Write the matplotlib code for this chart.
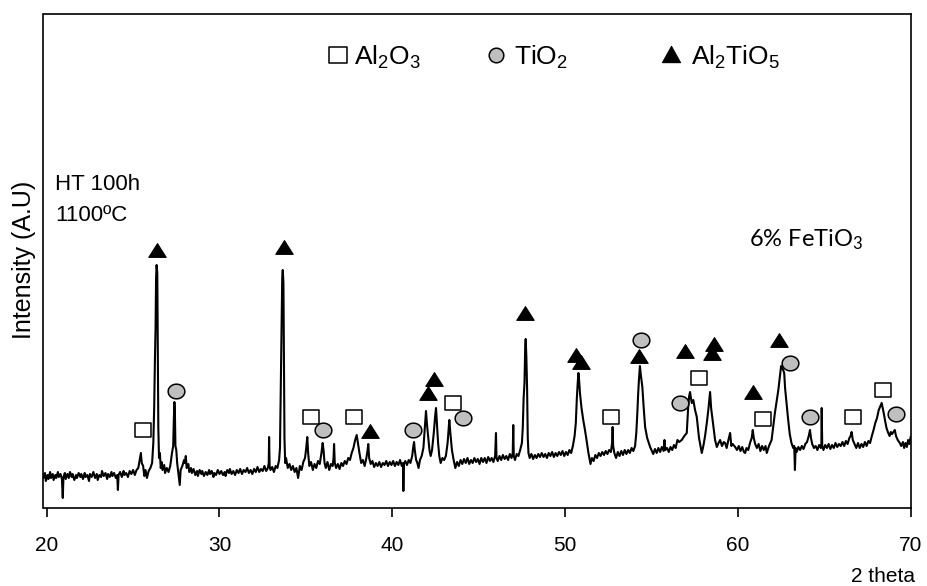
import numpy as np
import matplotlib
matplotlib.use("Agg")
import matplotlib.pyplot as plt
from matplotlib.path import Path
from matplotlib.lines import Line2D

# XRD scan: 2-theta (deg) and intensity (arbitrary units)
two_theta = [
    19.80, 19.90, 19.95, 20.05, 20.10, 20.20, 20.25, 20.35, 20.40, 20.50,
    20.55, 20.65, 20.70, 20.80, 20.88, 20.93, 20.97, 21.05, 21.10, 21.20,
    21.28, 21.35, 21.45, 21.50, 21.60, 21.70, 21.75, 21.85, 21.95, 22.00,
    22.10, 22.20, 22.25, 22.35, 22.45, 22.50, 22.60, 22.70, 22.80, 22.90,
    22.95, 23.05, 23.15, 23.20, 23.30, 23.40, 23.50, 23.55, 23.65, 23.75,
    23.80, 23.90, 24.00, 24.08, 24.12, 24.16, 24.25, 24.35, 24.45, 24.50,
    24.60, 24.70, 24.80, 24.90, 25.00, 25.10, 25.20, 25.30, 25.38, 25.45,
    25.50, 25.58, 25.65, 25.72, 25.80, 25.90, 26.00, 26.10, 26.17, 26.22,
    26.26, 26.30, 26.33, 26.36, 26.40, 26.43, 26.46, 26.50, 26.55, 26.60,
    26.65, 26.70, 26.80, 26.85, 26.95, 27.05, 27.15, 27.25, 27.32, 27.36,
    27.39, 27.42, 27.45, 27.50, 27.55, 27.62, 27.70, 27.75, 27.85, 27.95,
    28.00, 28.05, 28.10, 28.20, 28.25, 28.35, 28.40, 28.50, 28.60, 28.70,
    28.75, 28.85, 28.95, 29.00, 29.10, 29.20, 29.30, 29.40, 29.45, 29.55,
    29.65, 29.70, 29.80, 29.90, 30.00, 30.10, 30.20, 30.30, 30.35, 30.45,
    30.55, 30.60, 30.70, 30.80, 30.90, 31.00, 31.10, 31.20, 31.30, 31.40,
    31.50, 31.60, 31.70, 31.80, 31.90, 32.00, 32.10, 32.20, 32.30, 32.40,
    32.50, 32.60, 32.70, 32.80, 32.85, 32.87, 32.90, 32.95, 33.05, 33.15,
    33.25, 33.35, 33.45, 33.50, 33.54, 33.57, 33.60, 33.63, 33.66, 33.70,
    33.73, 33.76, 33.80, 33.85, 33.95, 34.05, 34.15, 34.25, 34.35, 34.45,
    34.55, 34.65, 34.75, 34.85, 34.95, 35.02, 35.08, 35.13, 35.20, 35.30,
    35.40, 35.50, 35.60, 35.70, 35.80, 35.90, 35.97, 36.02, 36.08, 36.15,
    36.25, 36.35, 36.45, 36.55, 36.60, 36.63, 36.67, 36.75, 36.85, 36.95,
    37.05, 37.15, 37.25, 37.35, 37.45, 37.55, 37.65, 37.75, 37.85, 37.94,
    38.00, 38.10, 38.20, 38.30, 38.40, 38.50, 38.57, 38.61, 38.66, 38.75,
    38.85, 38.95, 39.05, 39.15, 39.25, 39.35, 39.45, 39.55, 39.65, 39.75,
    39.85, 39.95, 40.05, 40.15, 40.25, 40.35, 40.45, 40.55, 40.62, 40.64,
    40.67, 40.75, 40.85, 40.95, 41.05, 41.15, 41.22, 41.26, 41.30, 41.38,
    41.45, 41.52, 41.60, 41.70, 41.80, 41.88, 41.95, 42.00, 42.08, 42.15,
    42.22, 42.30, 42.40, 42.48, 42.53, 42.58, 42.65, 42.72, 42.80, 42.90,
    43.00, 43.10, 43.20, 43.30, 43.36, 43.45, 43.55, 43.65, 43.75, 43.85,
    43.95, 44.05, 44.15, 44.25, 44.35, 44.45, 44.55, 44.65, 44.75, 44.85,
    44.95, 45.05, 45.15, 45.25, 45.35, 45.45, 45.55, 45.65, 45.75, 45.85,
    45.95, 46.00, 46.03, 46.10, 46.20, 46.30, 46.40, 46.50, 46.60, 46.70,
    46.80, 46.90, 46.97, 47.00, 47.03, 47.10, 47.20, 47.30, 47.40, 47.50,
    47.55, 47.60, 47.65, 47.69, 47.72, 47.76, 47.80, 47.84, 47.88, 47.95,
    48.05, 48.15, 48.25, 48.35, 48.45, 48.55, 48.65, 48.75, 48.85, 48.95,
    49.05, 49.15, 49.25, 49.35, 49.45, 49.55, 49.65, 49.75, 49.85, 49.95,
    50.05, 50.15, 50.25, 50.35, 50.45, 50.55, 50.62, 50.68, 50.73, 50.77,
    50.81, 50.86, 50.95, 51.05, 51.15, 51.24, 51.35, 51.47, 51.55, 51.65,
    51.75, 51.85, 51.95, 52.05, 52.15, 52.25, 52.35, 52.45, 52.55, 52.65,
    52.72, 52.75, 52.78, 52.85, 52.95, 53.05, 53.15, 53.25, 53.35, 53.45,
    53.55, 53.65, 53.75, 53.85, 53.95, 54.05, 54.12, 54.18, 54.23, 54.28,
    54.33, 54.37, 54.42, 54.47, 54.55, 54.63, 54.75, 54.92, 55.00, 55.10,
    55.20, 55.30, 55.40, 55.50, 55.60, 55.70, 55.75, 55.80, 55.90, 56.00,
    56.10, 56.20, 56.30, 56.40, 56.50, 56.60, 56.75, 56.90, 57.04, 57.12,
    57.18, 57.23, 57.28, 57.33, 57.42, 57.52, 57.62, 57.75, 57.91, 58.00,
    58.10, 58.20, 58.30, 58.39, 58.45, 58.52, 58.58, 58.68, 58.78, 58.88,
    58.97, 59.08, 59.18, 59.26, 59.35, 59.45, 59.55, 59.62, 59.70, 59.84,
    59.95, 60.05, 60.15, 60.25, 60.35, 60.42, 60.50, 60.60, 60.70, 60.80,
    60.86, 60.92, 61.00, 61.10, 61.20, 61.30, 61.40, 61.50, 61.60, 61.67,
    61.80, 61.95, 62.05, 62.14, 62.25, 62.34, 62.42, 62.50, 62.56, 62.62,
    62.68, 62.73, 62.78, 62.85, 62.91, 63.00, 63.10, 63.20, 63.26, 63.30,
    63.34, 63.40, 63.50, 63.60, 63.70, 63.80, 63.90, 64.00, 64.10, 64.17,
    64.23, 64.30, 64.40, 64.50, 64.60, 64.70, 64.80, 64.83, 64.85, 64.88,
    64.95, 65.05, 65.15, 65.25, 65.35, 65.45, 65.55, 65.65, 65.75, 65.85,
    65.95, 66.05, 66.15, 66.25, 66.35, 66.45, 66.52, 66.58, 66.65, 66.75,
    66.85, 66.95, 67.05, 67.15, 67.25, 67.35, 67.45, 67.55, 67.65, 67.75,
    67.85, 67.95, 68.05, 68.15, 68.25, 68.32, 68.38, 68.45, 68.51, 68.60,
    68.70, 68.78, 68.85, 68.92, 69.00, 69.08, 69.15, 69.25, 69.37, 69.45,
    69.55, 69.62, 69.70, 69.78, 69.85, 69.92, 70.00,
]
intensity = [
    30, 35, 27, 33, 29, 36, 30, 34, 28, 33,
    30, 36, 31, 34, 29, 10, 31, 35, 29, 34,
    30, 36, 31, 34, 28, 33, 30, 35, 31, 34,
    29, 35, 31, 33, 27, 34, 31, 36, 30, 34,
    28, 33, 31, 37, 32, 35, 29, 34, 31, 36,
    32, 35, 30, 33, 18, 33, 36, 31, 37, 33,
    35, 31, 37, 34, 38, 33, 38, 40, 48, 55,
    45, 42, 32, 38, 30, 37, 40, 45, 65, 100,
    145, 180, 230, 243, 235, 150, 80, 50, 55, 40,
    46, 38, 43, 35, 40, 36, 42, 55, 62, 90,
    106, 95, 62, 58, 45, 35, 23, 38, 42, 48,
    45, 52, 40, 44, 36, 40, 35, 39, 33, 37,
    32, 38, 34, 37, 32, 36, 33, 38, 34, 37,
    31, 35, 33, 38, 34, 37, 33, 36, 32, 38,
    35, 39, 34, 37, 33, 38, 35, 39, 34, 38,
    36, 40, 35, 38, 34, 39, 36, 41, 36, 39,
    37, 42, 37, 40, 45, 71, 42, 38, 41, 36,
    42, 40, 48, 60, 110, 145, 190, 230, 238, 225,
    140, 70, 45, 50, 40, 44, 38, 42, 36, 40,
    30, 42, 38, 46, 50, 60, 71, 55, 42, 46,
    38, 44, 40, 47, 44, 55, 65, 58, 45, 40,
    46, 38, 44, 42, 50, 64, 45, 40, 44, 39,
    45, 42, 47, 44, 50, 48, 55, 60, 68, 73,
    66, 55, 45, 48, 42, 50, 58, 64, 50, 44,
    47, 41, 45, 42, 46, 41, 45, 43, 47, 42,
    46, 43, 47, 42, 46, 43, 48, 42, 45, 17,
    44, 47, 43, 48, 45, 52, 62, 66, 58, 48,
    45, 40, 48, 52, 60, 80, 97, 85, 70, 58,
    52, 58, 75, 92, 100, 85, 65, 52, 45, 50,
    48, 52, 65, 88, 75, 58, 48, 40, 46, 42,
    48, 44, 49, 45, 50, 44, 48, 45, 50, 46,
    49, 44, 50, 46, 50, 45, 51, 47, 50, 46,
    52, 75, 50, 47, 52, 48, 53, 49, 52, 48,
    54, 50, 55, 83, 52, 48, 54, 52, 58, 65,
    80, 110, 125, 160, 169, 150, 120, 70, 55, 50,
    54, 49, 53, 50, 54, 51, 55, 51, 54, 50,
    55, 52, 56, 51, 55, 52, 56, 53, 57, 52,
    56, 53, 58, 55, 62, 72, 85, 110, 125, 135,
    128, 115, 100, 88, 78, 68, 55, 44, 50, 47,
    53, 50, 55, 52, 56, 53, 57, 54, 58, 56,
    65, 81, 62, 55, 50, 56, 52, 57, 53, 58,
    54, 58, 55, 60, 57, 62, 75, 95, 115, 130,
    142, 135, 128, 121, 100, 81, 70, 61, 58, 54,
    59, 55, 60, 56, 61, 57, 68, 58, 60, 56,
    61, 58, 63, 60, 68, 66, 68, 72, 75, 100,
    112, 116, 110, 105, 108, 98, 91, 70, 55, 62,
    72, 85, 100, 116, 100, 90, 81, 68, 61, 65,
    68, 62, 66, 65, 60, 68, 75, 62, 64, 61,
    58, 62, 57, 61, 56, 55, 60, 58, 65, 70,
    78, 70, 64, 60, 64, 57, 62, 58, 62, 55,
    62, 68, 82, 95, 108, 118, 130, 142, 140, 138,
    135, 120, 111, 98, 88, 74, 65, 60, 62, 38,
    60, 56, 61, 58, 62, 59, 64, 66, 72, 78,
    70, 64, 60, 62, 58, 63, 60, 64, 100, 62,
    58, 63, 60, 64, 59, 63, 60, 65, 61, 64,
    62, 66, 62, 67, 64, 70, 72, 76, 68, 64,
    60, 65, 60, 64, 61, 66, 62, 67, 65, 72,
    78, 85, 90, 98, 102, 105, 100, 94, 88, 80,
    75, 72, 76, 74, 76, 78, 72, 68, 65, 62,
    66, 60, 65, 61, 68, 64, 71,
]

# Phase identification marks (2-theta, height of the symbol)
al2o3_2theta = [25.59, 35.28, 37.78, 43.53, 52.64, 57.77, 61.45, 66.68, 68.38]
al2o3_level = [78, 91, 91, 105, 91, 130, 89, 91, 118]
tio2_2theta = [27.46, 36.01, 41.22, 44.11, 54.38, 56.65, 63.00, 64.17, 69.17]
tio2_level = [117, 78, 78, 90, 168, 105, 145, 91, 94]
al2tio5_2theta = [26.40, 33.73, 38.71, 42.08, 42.41, 47.68, 50.61, 50.90,
                  54.28, 56.94, 58.52, 58.62, 60.86, 62.38]
al2tio5_level = [258, 261, 77, 115, 129, 195, 153, 146,
                 152, 157, 155, 164, 116, 168]

phase_labels = ["Al$\\mathregular{_2}$O$\\mathregular{_3}$",
                "TiO$\\mathregular{_2}$",
                "Al$\\mathregular{_2}$TiO$\\mathregular{_5}$"]
x_ticks = [20, 30, 40, 50, 60, 70]

plt.rcParams['font.family'] = ['Liberation Sans', 'DejaVu Sans']

W, H = 928, 586
fig = plt.figure(figsize=(W / 100, H / 100), dpi=100)


def fpos(px, py):
    """Pixel position (from top-left) to figure fraction."""
    return px / W, 1 - py / H


left, right, top, bottom = 43.5, 910.7, 14.0, 508.0
ax = fig.add_axes([left / W, 1 - bottom / H, (right - left) / W, (bottom - top) / H])

ax.plot(two_theta, intensity, color='black', lw=1.5, zorder=2)

# slightly wide marker shapes
square_mark = Path([(-1, -0.83), (1, -0.83), (1, 0.83), (-1, 0.83), (-1, -0.83)], closed=True)
t = np.linspace(0, 2 * np.pi, 73)
oval_mark = Path(np.column_stack([np.cos(t), 0.88 * np.sin(t)]), closed=True)
tri_mark = Path([(-1, -0.79), (1, -0.79), (0, 0.79), (-1, -0.79)], closed=True)
tri_leg = Path([(-1, -0.9), (1, -0.9), (0, 0.9), (-1, -0.9)], closed=True)

gray = '#bfbfbf'
ax.plot(al2o3_2theta, al2o3_level, ls='none', marker=square_mark, ms=12,
        mfc='white', mec='black', mew=1.1, zorder=3)
ax.plot(tio2_2theta, tio2_level, ls='none', marker=oval_mark, ms=12,
        mfc=gray, mec='black', mew=1.1, zorder=3)
ax.plot(al2tio5_2theta, al2tio5_level, ls='none', marker=tri_mark, ms=12.5,
        mfc='black', mec='black', mew=0.8, zorder=3)

ax.set_xlim(19.815, 70.0)
ax.set_ylim(0, bottom - top)
ax.set_yticks([])
ax.set_xticks(x_ticks)
ax.tick_params(axis='x', direction='out', length=6.5, width=1.2, pad=14, labelsize=15)
for s in ax.spines.values():
    s.set_linewidth(1.2)

# phase key
key_marks = [
    (338.3, 55.0, dict(marker=square_mark, ms=13.5, mfc='white', mec='black', mew=1.1)),
    (495.7, 55.0, dict(marker='o', ms=10.5, mfc=gray, mec='black', mew=1.1)),
    (670.7, 53.5, dict(marker=tri_leg, ms=13, mfc='black', mec='black', mew=0.8)),
]
key_text_x = [354.0, 514.0, 691.0]
for (mx, my, style), tx, lab in zip(key_marks, key_text_x, phase_labels):
    fx, fy = fpos(mx, my)
    fig.add_artist(Line2D([fx], [fy], transform=fig.transFigure, ls='none', **style))
    x, y = fpos(tx, 65.0)
    fig.text(x, y, lab, fontsize=19, ha='left', va='baseline')

x, y = fpos(55, 190)
fig.text(x, y, 'HT 100h', fontsize=16, ha='left', va='baseline')
x, y = fpos(55, 221)
fig.text(x, y, '1100ºC', fontsize=16, ha='left', va='baseline')
x, y = fpos(749, 246.7)
fig.text(x, y, '6% FeTiO$\\mathregular{_3}$', family=['Lato', 'DejaVu Sans'],
         fontsize=17, ha='left', va='baseline')

x, y = fpos(30.7, 260)
fig.text(x, y, 'Intensity (A.U)', fontsize=18, rotation=90, rotation_mode='anchor',
         ha='center', va='baseline')
x, y = fpos(915, 582)
fig.text(x, y, '2 theta', fontsize=15, ha='right', va='baseline')

fig.savefig('out.png', dpi=100)
